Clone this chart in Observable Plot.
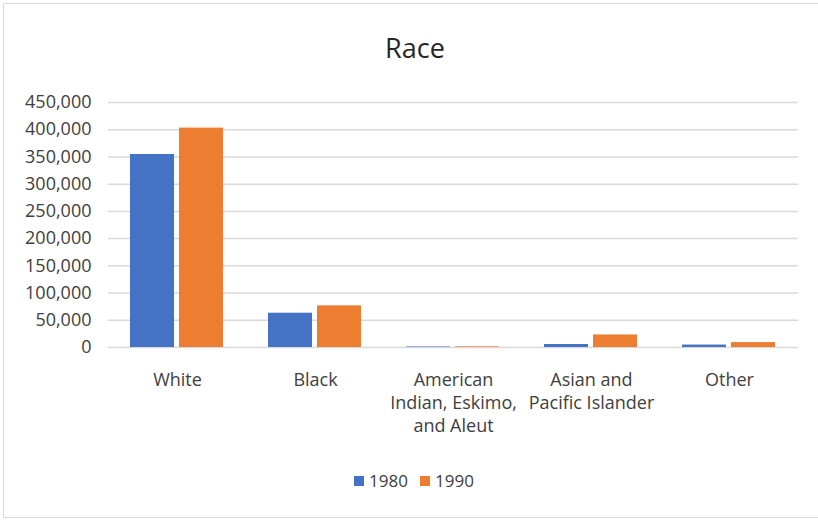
<!DOCTYPE html>
<html>
<head>
<meta charset="utf-8">
<script src="https://cdn.jsdelivr.net/npm/d3@7"></script>
<script src="https://cdn.jsdelivr.net/npm/@observablehq/plot@0.6"></script>
<style>
  html, body { margin: 0; padding: 0; background: #fff; overflow: hidden; }
  body { width: 818px; height: 521px; font-family: "Open Sans", sans-serif; color: #404040; }
  #frame { position: absolute; left: 3px; top: 3px; width: 820px; height: 513px; border: 1px solid #d9d9d9; background: #fff; }
  #title { height: 59px; box-sizing: border-box; padding-top: 29px; line-height: 30px; font-size: 27px; text-align: center; width: 812px; padding-left: 10px; color: #262626; }
  #chart svg { display: block; }
  #legend { margin-top: 26px; width: 812px; display: flex; justify-content: center; align-items: center; line-height: 24px; font-size: 17px; padding-left: 8px; box-sizing: border-box; }
  .item { display: flex; align-items: center; margin: 0 6px; }
  .sw { width: 10px; height: 10px; margin-right: 5px; }
</style>
</head>
<body>
<div id="frame">
  <div id="title">Race</div>
  <div id="chart"></div>
  <div id="legend"></div>
</div>
<script>
const categories = ["White", "Black", "American Indian, Eskimo, and Aleut", "Asian and Pacific Islander", "Other"];
const tickLabels = ["White", "Black", "American\nIndian, Eskimo,\nand Aleut", "Asian and\nPacific Islander", "Other"];
const years = ["1980", "1990"];
const values1980 = [354500, 63000, 1000, 5500, 4500];
const values1990 = [403000, 76500, 1200, 23000, 9000];
const yTicks = [0, 50000, 100000, 150000, 200000, 250000, 300000, 350000, 400000, 450000];
const colors = ["#4472C4", "#ED7D31"];

const data = [];
categories.forEach((c, i) => {
  data.push({category: c, year: years[0], value: values1980[i]});
  data.push({category: c, year: years[1], value: values1990[i]});
});
const labelOf = d => tickLabels[categories.indexOf(d)];

const chart = Plot.plot({
  width: 812,
  height: 380,
  marginTop: 39,
  marginBottom: 96,
  marginLeft: 102,
  marginRight: 16,
  style: {fontFamily: "Open Sans, sans-serif", fontSize: "18px", color: "#404040", background: "transparent"},
  fx: {domain: categories, padding: 0, label: null},
  x: {domain: years, paddingInner: 0.1, paddingOuter: 0.44, axis: null},
  y: {domain: [0, 450000], label: null},
  color: {domain: years, range: colors},
  marks: [
    Plot.ruleY(yTicks, {stroke: "#d9d9d9", strokeWidth: 1.5}),
    Plot.barY(data, {fx: "category", x: "year", y: "value", fill: "year"}),
    Plot.axisY({ticks: yTicks, tickSize: 0, tickPadding: 17, tickFormat: d3.format(","), label: null}),
    Plot.axisFx({anchor: "bottom", tickSize: 0, tickPadding: 22, lineHeight: 1.28, tickFormat: labelOf, label: null})
  ]
});
document.getElementById("chart").appendChild(chart);

const legend = document.getElementById("legend");
years.forEach((y, i) => {
  const item = document.createElement("div");
  item.className = "item";
  const sw = document.createElement("div");
  sw.className = "sw";
  sw.style.background = colors[i];
  const t = document.createElement("span");
  t.textContent = y;
  item.appendChild(sw);
  item.appendChild(t);
  legend.appendChild(item);
});
</script>
</body>
</html>
